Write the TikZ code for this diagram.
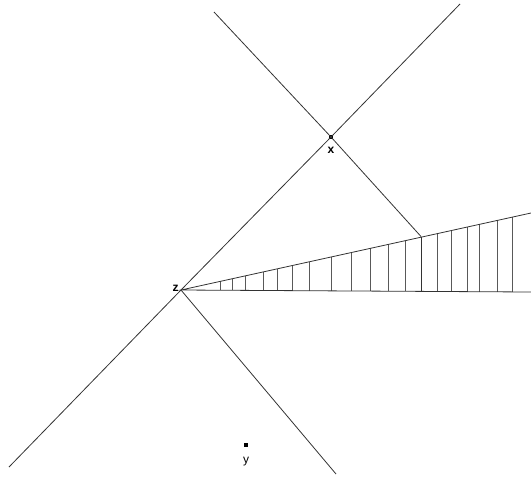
\documentclass[tikz,border=0pt]{standalone}
\usepackage{fontspec}
\setmainfont{Liberation Sans}
\usetikzlibrary{calc}
\begin{document}
\begin{tikzpicture}[x=0.75pt,y=-0.75pt,
  ln/.style={draw=black!80,line width=0.6pt},
  hatch/.style={draw=black!65,line width=0.7pt},
  dot/.style={rectangle,fill=black,inner sep=0pt,minimum size=2.6pt},
  lbl/.style={inner sep=0pt,font=\fontsize{9}{10}\selectfont\bfseries},
  lblr/.style={inner sep=0pt,font=\fontsize{9}{10}\selectfont}]
\useasboundingbox (0,0) rectangle (531,476);
% key points
\coordinate (z) at (181,290);
\node[dot] (x) at (331,137) {};
\node[dot] (y) at (246,445) {};
% line ends
\coordinate (A) at (9,467);
\coordinate (B) at (460,4);
\coordinate (C) at (214,12);
\coordinate (D) at (421,236.5);
\coordinate (E) at (336,474);
\coordinate (W1) at (531,213);
\coordinate (W2) at (531,292);
% hatching
\foreach \h in {220,232,245,263,277,292,309,331,351,370,388,405,437,451,467,479,497,512}{
  \draw[hatch] ($(z)!{(\h-181)/350}!(W1)$) -- ($(z)!{(\h-181)/350}!(W2)$);
}
\draw[ln] ($(z)!{(421-181)/350}!(W1)$) -- ($(z)!{(421-181)/350}!(W2)$);
% lines
\draw[ln] (A) -- (z) -- (x.center) -- (B);
\draw[ln] (C) -- (x.center) -- (D);
\draw[ln] (z) -- (E);
\draw[ln] (W1) -- (z) -- (W2);
% labels
\node[lbl] (xl) at (331,150) {x};
\node[lbl] (zl) at (175.5,288.5) {z};
\node[lblr,anchor=base] (yl) at (246,463) {y};
\end{tikzpicture}
\end{document}
